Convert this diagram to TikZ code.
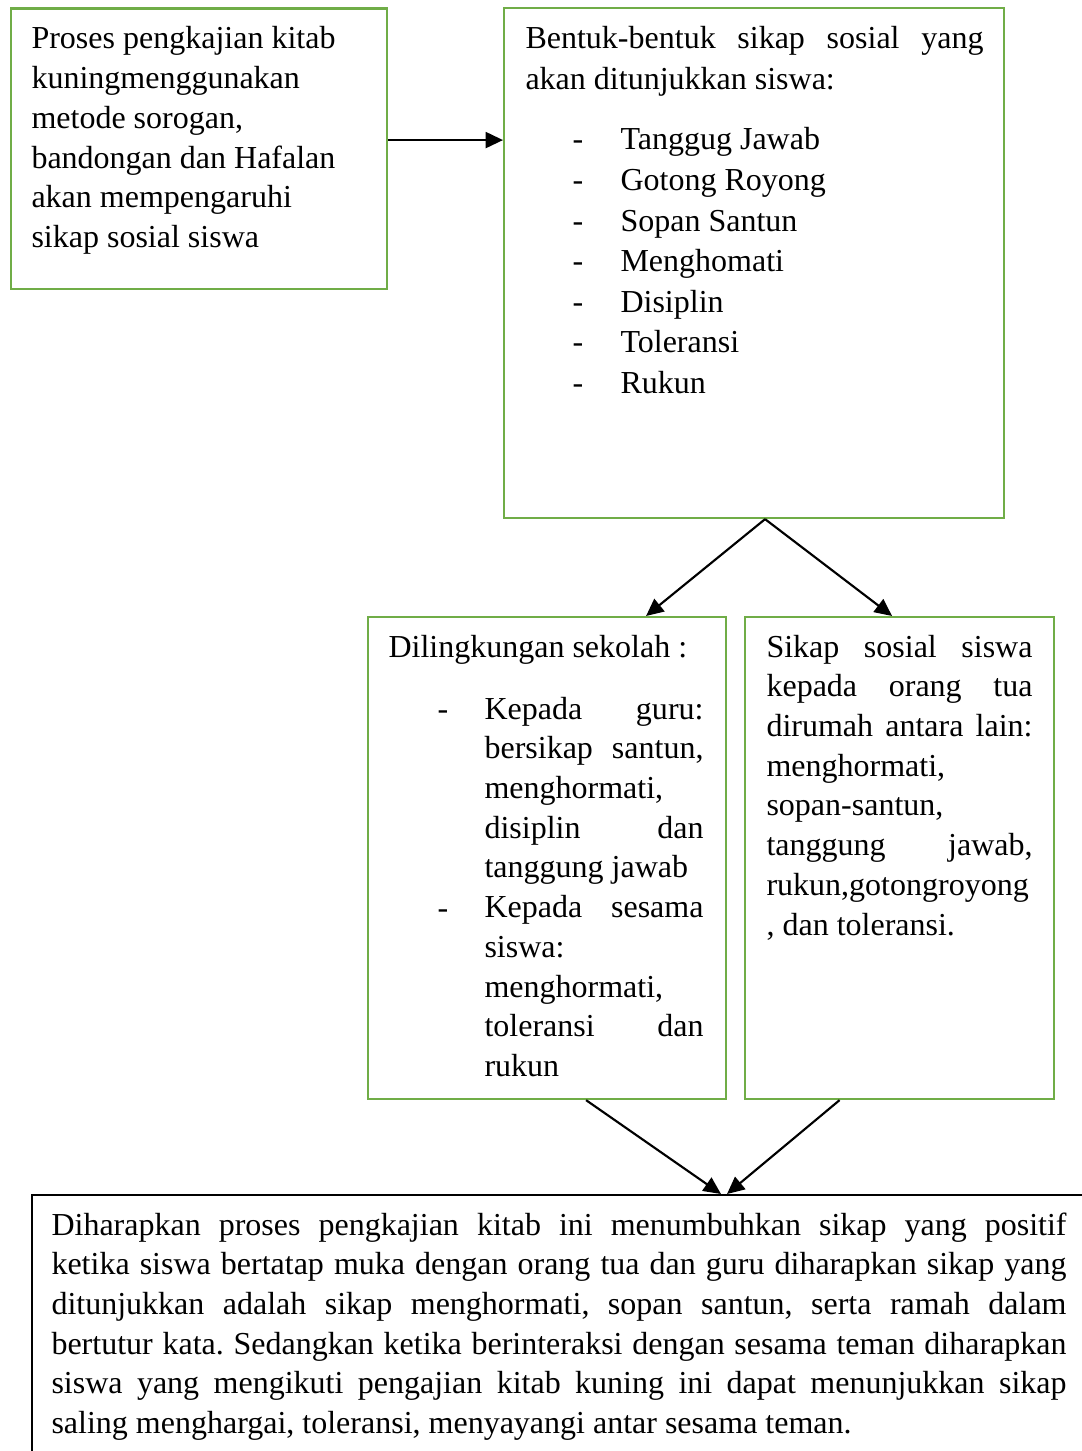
\documentclass[tikz,border=0pt]{standalone}
\usepackage{fontspec}
\setmainfont{Liberation Serif}
\usetikzlibrary{arrows.meta}
\definecolor{boxgreen}{HTML}{70AD47}
\newcommand\blk[2]{\vtop{\baselineskip=#1\lineskip=0pt\lineskiplimit=-20pt #2}}
\newcommand\jl[2]{\hbox to #1{#2}}
\newcommand\nl[1]{\hbox{#1}}
\frenchspacing
\begin{document}
\begin{tikzpicture}[x=0.375pt,y=-0.375pt,
  gbox/.style={draw=boxgreen,line width=0.8pt,inner sep=0pt,anchor=north west},
  kbox/.style={draw=black,line width=0.8pt,inner sep=0pt,anchor=north west},
  txt/.style={anchor=base west,inner sep=0pt,font=\fontsize{12}{14.9}\selectfont},
  arr/.style={draw=black,line width=0.8pt,-{Triangle[length=6.5pt,width=6pt]}}]
\useasboundingbox (0,0) rectangle (1082,1451);
\clip (0,0) rectangle (1082,1451);
\fill[white] (0,0) rectangle (1082,1451);

% boxes
\node[gbox,minimum width=141pt,minimum height=105.19pt] (a) at (10,7.5) {};
\node[gbox,minimum width=187.5pt,minimum height=191.25pt] (b) at (503,7) {};
\node[gbox,minimum width=134.25pt,minimum height=180.75pt] (c) at (367,616) {};
\node[gbox,minimum width=115.875pt,minimum height=180.75pt] (d) at (744,616) {};
\node[kbox,minimum width=400.875pt,minimum height=103.5pt] (e) at (31,1194) {};

% box A text
\node[txt] (ta) at (31,49) {\blk{14.9pt}{%
\nl{Proses pengkajian kitab}
\nl{kuningmenggunakan}
\nl{metode sorogan,}
\nl{bandongan dan Hafalan}
\nl{akan mempengaruhi}
\nl{sikap sosial siswa}}};

% box B text
\node[txt] (tb) at (525,49) {\blk{15.2pt}{%
\jl{171.75pt}{Bentuk-bentuk sikap sosial yang}
\nl{akan ditunjukkan siswa:}}};
\node[txt] (tbd) at (572,150) {\blk{15.19pt}{\nl{-}\nl{-}\nl{-}\nl{-}\nl{-}\nl{-}\nl{-}}};
\node[txt] (tbl) at (620,150) {\blk{15.19pt}{%
\nl{Tanggug Jawab}
\nl{Gotong Royong}
\nl{Sopan Santun}
\nl{Menghomati}
\nl{Disiplin}
\nl{Toleransi}
\nl{Rukun}}};

% box C text
\node[txt] (tch) at (388,657) {Dilingkungan sekolah :};
\node[txt] (tcd1) at (437,719) {-};
\node[txt] (tcd2) at (437,918) {-};
\node[txt] (tc) at (484,719) {\blk{14.9pt}{%
\jl{82.125pt}{Kepada guru:}
\jl{82.125pt}{bersikap santun,}
\nl{menghormati,}
\jl{82.125pt}{disiplin dan}
\nl{tanggung jawab}
\jl{82.125pt}{Kepada sesama}
\nl{siswa:}
\nl{menghormati,}
\jl{82.125pt}{toleransi dan}
\nl{rukun}}};

% box D text
\node[txt] (td) at (766,657) {\blk{14.9pt}{%
\jl{99.75pt}{Sikap sosial siswa}
\jl{99.75pt}{kepada orang tua}
\jl{99.75pt}{dirumah antara lain:}
\nl{menghormati,}
\nl{sopan-santun,}
\jl{99.75pt}{tanggung jawab,}
\nl{rukun,gotongroyong}
\nl{, dan toleransi.}}};

% box E text
\node[txt] (te) at (51,1235) {\blk{14.9pt}{%
\jl{380.625pt}{Diharapkan proses pengkajian kitab ini menumbuhkan sikap yang positif}
\jl{380.625pt}{ketika siswa bertatap muka dengan orang tua dan guru diharapkan sikap yang}
\jl{380.625pt}{ditunjukkan adalah sikap menghormati, sopan santun, serta ramah dalam}
\jl{380.625pt}{bertutur kata. Sedangkan ketika berinteraksi dengan sesama teman diharapkan}
\jl{380.625pt}{siswa yang mengikuti pengajian kitab kuning ini dapat menunjukkan sikap}
\nl{saling menghargai, toleransi, menyayangi antar sesama teman.}}};

% connectors
\coordinate (ab) at ([yshift=3.28pt]a.east);
\draw[arr] (ab) -- (ab -| b.west);
\coordinate (bs) at ([xshift=4.125pt]b.south);
\draw[arr] (bs) -- ([xshift=37.125pt]c.north);
\draw[arr] (bs) -- ([xshift=-2.81pt]d.north);
\draw[arr] ([xshift=14.625pt]c.south) -- ([xshift=258.75pt]e.north west);
\draw[arr] ([xshift=-22.5pt]d.south) -- ([xshift=261pt]e.north west);
\end{tikzpicture}
\end{document}
